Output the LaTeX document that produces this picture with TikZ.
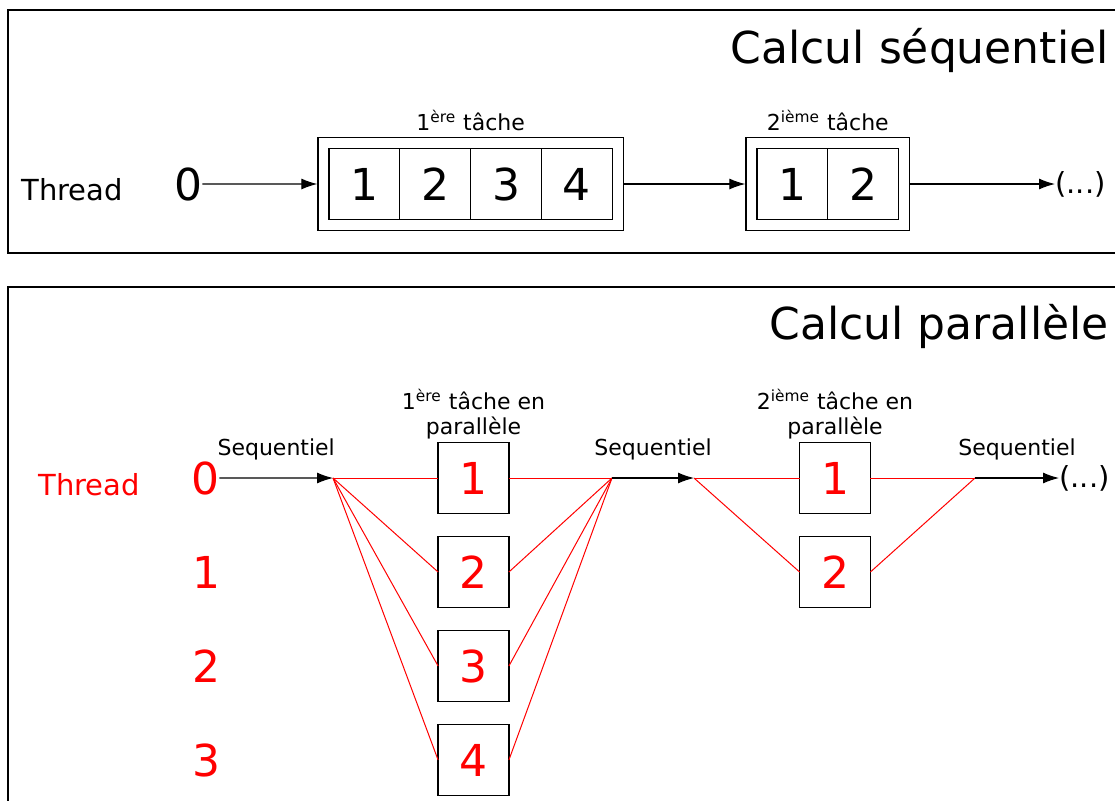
\documentclass[tikz,border=0pt]{standalone}
\usepackage{fontspec}
\setmainfont{DejaVu Sans}
\usetikzlibrary{positioning, fit, arrows.meta}

\tikzset{
    cell/.style = {draw, line width=0.65pt, minimum size=35.4pt, inner sep=0pt, outer sep=0pt, font=\fontsize{22}{26}\selectfont},
    pcell/.style = {cell, text=red},
    task/.style = {draw, line width=0.65pt, inner sep=5.5pt},
    titletxt/.style = {inner sep=0pt, font=\fontsize{22}{26}\selectfont},
    threadtxt/.style = {inner sep=0pt, font=\fontsize{14.5}{17}\selectfont},
    smalltxt/.style = {inner sep=0pt, font=\fontsize{11}{12.5}\selectfont, align=center},
    panel/.style = {draw, line width=0.75pt},
    seq/.style = {-{Latex[length=8pt, width=5.5pt]}, line width=0.55pt},
    par/.style = {red, line width=0.5pt},
}

\begin{document}
\begin{tikzpicture}[x=0.5pt, y=-0.5pt]
    \path[use as bounding box] (0,0) rectangle (1115,800);

    % Frames
    \draw[panel] (8,10) rectangle (1130,253);
    \draw[panel] (8,287) rectangle (1130,830);

    % Calcul sequentiel
    \node[titletxt, anchor=base east] (tseq) at (1109,63) {Calcul séquentiel};
    \node[threadtxt, anchor=base west] (thr) at (21,200) {Thread};
    \node[titletxt, anchor=base] (t0) at (188,200) {0};

    \node[cell] (a1) at (364.4,184) {1};
    \node[cell] (a2) [right=0pt of a1] {2};
    \node[cell] (a3) [right=0pt of a2] {3};
    \node[cell] (a4) [right=0pt of a3] {4};
    \node[task, fit=(a1)(a4)] (taskA) {};
    \node[smalltxt] (labA) [above=3pt of taskA] {1\textsuperscript{ère} tâche};

    \node[cell] (b1) at (792.4,184) {1};
    \node[cell] (b2) [right=0pt of b1] {2};
    \node[task, fit=(b1)(b2)] (taskB) {};
    \node[smalltxt] (labB) [above=3pt of taskB] {2\textsuperscript{ième} tâche};

    \node[threadtxt, anchor=west] (etcA) at (1055,184) {(...)};

    \draw[seq] (t0.east) -- (taskA.west);
    \draw[seq] (taskA.east) -- (taskB.west);
    \draw[seq] (taskB.east) -- (etcA.west);

    % Calcul parallele
    \node[titletxt, anchor=base east] (tpar) at (1109,339) {Calcul parallèle};
    \node[threadtxt, red, anchor=base west] (thrp) at (38,495) {Thread};
    \node[titletxt, red, anchor=base] (p0) at (205,494) {0};
    \foreach \i/\y in {1/588, 2/682, 3/776}
        \node[titletxt, red, anchor=base] (p\i) at (206,\y) {\i};

    \coordinate (fa) at (333,478);
    \coordinate (ja) at (612,478);
    \coordinate (fb) at (694,478);
    \coordinate (jb) at (975,478);

    \foreach \i/\y in {1/478, 2/572, 3/666, 4/760}
        \node[pcell] (q\i) at (473.5,\y) {\i};
    \foreach \i/\y in {1/478, 2/572}
        \node[pcell] (r\i) at (835,\y) {\i};

    \node[smalltxt] (labQ) [above=1.5pt of q1] {1\textsuperscript{ère} tâche en\\parallèle};
    \node[smalltxt] (labR) [above=1.5pt of r1] {2\textsuperscript{ième} tâche en\\parallèle};

    \node[threadtxt, anchor=west] (etcB) at (1059,478) {(...)};

    % Transitions
    \foreach \i in {1,...,4}
        \draw[par] (fa) -- (q\i.west) (q\i.east) -- (ja);
    \foreach \i in {1,2}
        \draw[par] (fb) -- (r\i.west) (r\i.east) -- (jb);

    \draw[seq] (p0.east) -- (fa) node[smalltxt, midway, above=8.5pt] {Sequentiel};
    \draw[seq] (ja) -- (fb) node[smalltxt, midway, above=8.5pt] {Sequentiel};
    \draw[seq] (jb) -- (etcB.west) node[smalltxt, midway, above=8.5pt] {Sequentiel};
\end{tikzpicture}
\end{document}
